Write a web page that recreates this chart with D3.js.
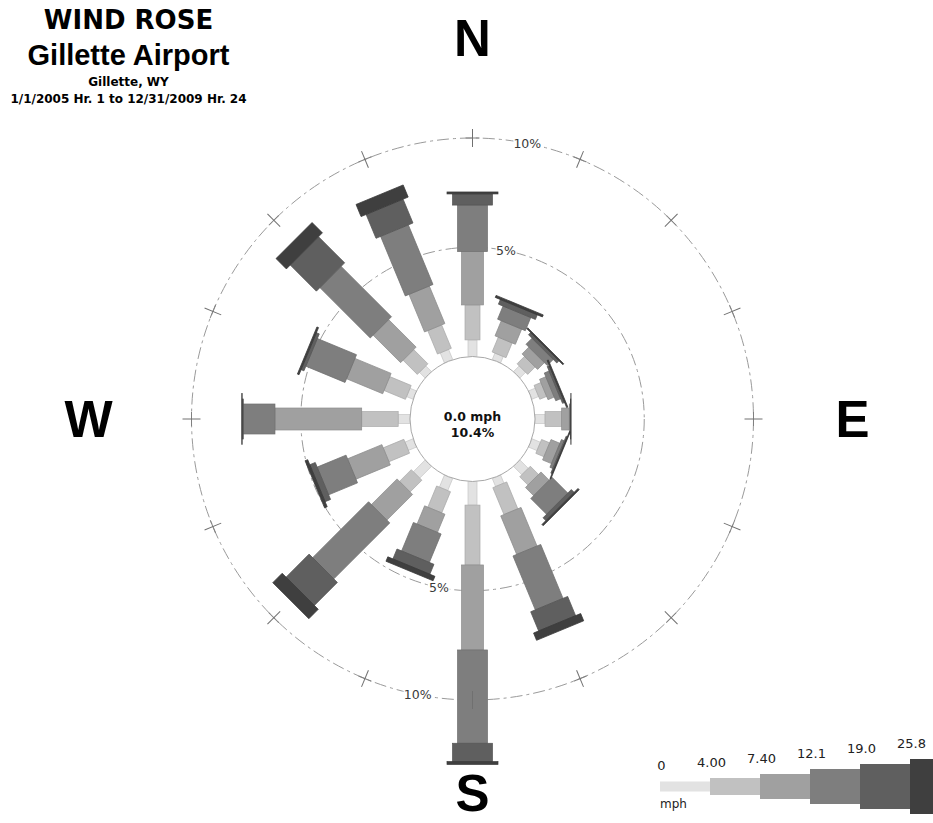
<!DOCTYPE html>
<html><head><meta charset="utf-8">
<script src="https://cdn.jsdelivr.net/npm/d3@7"></script>
<style>body{margin:0;background:#fff} svg{display:block}</style>
</head><body>
<svg id="chart" width="933" height="823"></svg>
<script>
// ---------------- DATA ----------------
const directions = ["N","NNE","NE","ENE","E","ESE","SE","SSE","S","SSW","SW","WSW","W","WNW","NW","NNW"];
const speedKeys = ["c1","c2","c3","c4","c5","c6"];
const speedBreaks = ["0","4.00","7.40","12.1","19.0","25.8"];
// percent of hours per direction for each wind-speed class (mph)
const class1 = [0.76,0.32,0.37,0.33,0.46,0.42,0.54,0.40,1.08,0.60,0.76,0.40,0.54,0.32,0.37,0.50]; // 0 - 4.00
const class2 = [1.60,0.73,0.48,0.34,0.76,0.40,0.53,1.33,2.74,1.05,0.76,1.02,1.67,1.06,0.92,1.16]; // 4.00 - 7.40
const class3 = [2.44,0.75,0.44,0.31,0.35,0.44,0.53,1.91,3.89,0.90,1.66,1.70,3.97,1.79,1.78,1.86]; // 7.40 - 12.1
const class4 = [2.13,0.65,0.39,0.24,0.05,0.14,1.02,2.67,4.27,1.41,3.62,1.43,1.45,1.94,3.26,2.95]; // 12.1 - 19.0
const class5 = [0.51,0.23,0.14,0.10,0.02,0.06,0.18,0.95,0.84,0.49,1.49,0.27,0.05,0.14,1.69,1.18]; // 19.0 - 25.8
const class6 = [0.09,0.10,0.06,0.06,0.01,0.04,0.08,0.36,0.13,0.22,0.61,0.13,0.02,0.08,0.67,0.60]; // >= 25.8
const ringValues = [5, 10];
const ringLabels = ["5%", "10%"];
const compassLabels = ["N", "E", "S", "W"];
const calmSpeed = "0.0 mph";
const calmPercent = "10.4%";
const titleLines = ["WIND ROSE", "Gillette Airport", "Gillette, WY", "1/1/2005 Hr. 1 to 12/31/2009 Hr. 24"];
const unitLabel = "mph";

// ---------------- STYLE / LAYOUT ----------------
const colors = ["#e2e2e2","#c1c1c1","#a0a0a0","#7e7e7e","#5f5f5f","#3f3f3f"];
const barWidths = [9, 15, 22, 30, 40, 51];
const legendHeights = [10, 17, 25, 35, 45, 55];
const cx = 472.5, cy = 419, calmR = 62.5, r10 = 281;

const svg = d3.select("#chart");
const classArrays = [class1, class2, class3, class4, class5, class6];
const rows = directions.map((d, i) => {
  const o = {dir: d};
  speedKeys.forEach((k, j) => o[k] = classArrays[j][i]);
  return o;
});
const stacked = d3.stack().keys(speedKeys)(rows);

const r = d3.scaleLinear().domain([0, 10]).range([calmR, r10]);
const angle = d3.scaleLinear().domain([0, directions.length]).range([0, 360]);
const color = d3.scaleOrdinal().domain(speedKeys).range(colors);
const width = d3.scaleOrdinal().domain(speedKeys).range(barWidths);

const root = svg.append("g").attr("transform", `translate(${cx},${cy})`);

// rings
root.selectAll("circle.ring").data(ringValues).join("circle")
  .attr("class", "ring").attr("r", d => r(d))
  .attr("fill", "none").attr("stroke", "#9a9a9a").attr("stroke-width", 1)
  .attr("stroke-dasharray", "12,4,3,4");

// tick crosses on outer ring (tangential part below bars)
const tickG = root.append("g");
tickG.selectAll("line").data(directions).join("line")
  .attr("transform", (d, i) => `rotate(${angle(i)})`)
  .attr("x1", -7).attr("x2", 7)
  .attr("y1", -r(10)).attr("y2", -r(10))
  .attr("stroke", "#808080").attr("stroke-width", 1);

// bars
const barG = root.append("g");
stacked.forEach(series => {
  const k = series.key;
  barG.append("g").selectAll("rect").data(series).join("rect")
    .attr("transform", (d, i) => `rotate(${angle(i)})`)
    .attr("x", -width(k) / 2)
    .attr("width", width(k))
    .attr("y", d => -r(d[1]))
    .attr("height", d => Math.max(0, r(d[1]) - r(d[0])))
    .attr("fill", color(k))
    .attr("stroke", d3.color(color(k)).darker(0.35))
    .attr("stroke-width", 0.7);
});

// calm circle
root.append("circle").attr("r", calmR)
  .attr("fill", "#fff").attr("stroke", "#a8a8a8").attr("stroke-width", 1);

// radial tick part on top
root.append("g").selectAll("line").data(directions).join("line")
  .attr("transform", (d, i) => `rotate(${angle(i)})`)
  .attr("x1", 0).attr("x2", 0)
  .attr("y1", -r(10) - 9).attr("y2", -r(10) + 9)
  .attr("stroke", "#707070").attr("stroke-width", 1);

// ring labels at 11.25 and 191.25 degrees
const labelAngles = [angle(0.5), angle(8.5)];
labelAngles.forEach(a => {
  const rad = a * Math.PI / 180;
  root.append("g").selectAll("text").data(ringValues).join("text")
    .attr("x", d => r(d) * Math.sin(rad))
    .attr("y", d => -r(d) * Math.cos(rad))
    .attr("dy", "0.35em")
    .attr("text-anchor", "middle")
    .attr("font-family", "DejaVu Sans, sans-serif")
    .attr("font-size", 12.5)
    .attr("fill", "#3a3a3a")
    .attr("stroke", "#fff").attr("stroke-width", 3).attr("paint-order", "stroke")
    .text((d, i) => ringLabels[i]);
});

// calm text
root.append("text").attr("x", 0).attr("y", 1.5).attr("text-anchor", "middle")
  .attr("font-family", "DejaVu Sans, sans-serif").attr("font-weight", "bold")
  .attr("font-size", 12.5).attr("fill", "#111").text(calmSpeed);
root.append("text").attr("x", 0).attr("y", 18).attr("text-anchor", "middle")
  .attr("font-family", "DejaVu Sans, sans-serif").attr("font-weight", "bold")
  .attr("font-size", 12.5).attr("fill", "#111").text(calmPercent);

// compass labels
const compassR = [381, 380, 374, 384];
root.append("g").selectAll("text").data(compassLabels).join("text")
  .attr("x", (d, i) => compassR[i] * Math.sin(i * Math.PI / 2))
  .attr("y", (d, i) => -compassR[i] * Math.cos(i * Math.PI / 2) + 18.3)
  .attr("text-anchor", "middle")
  .attr("font-family", "Liberation Sans, Arial, sans-serif")
  .attr("font-weight", "bold").attr("font-size", 51).attr("fill", "#000")
  .text(d => d);

// titles
const titleSpec = [
  {y: 28.5, size: 26, fam: "DejaVu Sans, sans-serif"},
  {y: 65, size: 29, fam: "Liberation Sans, Arial, sans-serif"},
  {y: 85.5, size: 12, fam: "DejaVu Sans, sans-serif"},
  {y: 102.5, size: 12, fam: "DejaVu Sans, sans-serif"}
];
svg.append("g").selectAll("text").data(titleLines).join("text")
  .attr("x", 128.5).attr("y", (d, i) => titleSpec[i].y)
  .attr("text-anchor", "middle")
  .attr("font-family", (d, i) => titleSpec[i].fam)
  .attr("font-weight", "bold")
  .attr("font-size", (d, i) => titleSpec[i].size)
  .attr("fill", "#000")
  .text(d => d);

// legend
const lx = d3.scaleBand().domain(speedBreaks).range([660, 960]).padding(0);
const lh = d3.scaleOrdinal().domain(speedBreaks).range(legendHeights);
const lcol = d3.scaleOrdinal().domain(speedBreaks).range(colors);
const legendCY = 786.5;
const leg = svg.append("g");
leg.selectAll("rect").data(speedBreaks).join("rect")
  .attr("x", d => lx(d)).attr("width", lx.bandwidth())
  .attr("y", d => legendCY - lh(d) / 2).attr("height", d => lh(d))
  .attr("fill", d => lcol(d));
leg.selectAll("text.lab").data(speedBreaks).join("text")
  .attr("class", "lab")
  .attr("x", d => lx(d) + 1.5)
  .attr("y", d => legendCY - lh(d) / 2 - 11.5)
  .attr("text-anchor", "middle")
  .attr("font-family", "DejaVu Sans, sans-serif")
  .attr("font-size", 13).attr("fill", "#222")
  .text(d => d);
leg.append("text").attr("x", lx(speedBreaks[0])).attr("y", 808)
  .attr("font-family", "DejaVu Sans, sans-serif")
  .attr("font-size", 12).attr("fill", "#222").text(unitLabel);
</script>
</body></html>
